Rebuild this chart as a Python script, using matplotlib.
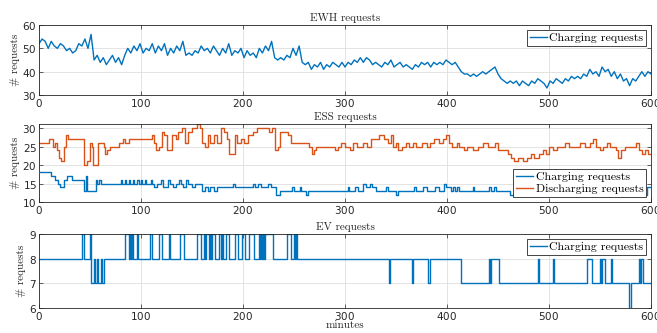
import numpy as np
import matplotlib
matplotlib.use('Agg')
import matplotlib.pyplot as plt

# ---------------- data ----------------
# EWH charging requests, sampled every 3 minutes from 0 to 600
ewh_vals = [52, 54, 53, 50, 53, 51, 50, 52, 51, 49, 50, 48, 49, 52, 51, 54, 50, 56, 45, 47,
            44, 46, 43, 45, 47, 44, 46, 43, 47, 50, 48, 51, 49, 52, 48, 50, 49, 52, 48, 51,
            49, 52, 47, 50, 48, 51, 49, 53, 47, 48, 47, 49, 48, 51, 49, 50, 48, 51, 49, 47,
            50, 48, 52, 47, 49, 48, 50, 46, 49, 47, 48, 46, 50, 48, 51, 49, 53, 46, 45, 46,
            45, 47, 46, 50, 47, 51, 44, 43, 44, 41, 43, 42, 44, 41, 43, 42, 44, 43, 42, 44,
            42, 44, 43, 45, 44, 46, 44, 46, 45, 43, 44, 43, 42, 44, 43, 45, 42, 43, 44, 42,
            43, 42, 41, 43, 42, 44, 43, 44, 42, 44, 43, 44, 43, 45, 44, 43, 44, 42, 40, 39,
            39, 38, 39, 38, 39, 40, 39, 40, 41, 42, 39, 37, 36, 35, 36, 35, 36, 34, 36, 35,
            34, 36, 35, 37, 36, 35, 33, 36, 35, 37, 36, 35, 37, 36, 38, 37, 38, 37, 39, 38,
            41, 39, 40, 38, 42, 40, 41, 38, 40, 37, 39, 36, 37, 34, 37, 36, 38, 40, 38, 40,
            39]
ewh_t = np.arange(0, 601, 3)

# ESS charging requests (change points: minute, value)
ess_ch_t = [0, 12, 16, 19, 21, 24, 27, 32, 44, 46, 47, 56, 57, 59, 61, 80, 81, 84, 85, 88,
            89, 92, 93, 96, 98, 100, 101, 104, 105, 110, 111, 113, 116, 120, 122, 126, 128,
            131, 134, 137, 139, 141, 144, 146, 150, 153, 160, 163, 166, 168, 172, 174, 190,
            192, 210, 212, 215, 218, 224, 227, 232, 236, 248, 250, 256, 257, 262, 264, 303,
            304, 310, 313, 318, 321, 324, 326, 330, 340, 342, 350, 352, 368, 370, 376, 380,
            388, 392, 397, 399, 404, 406, 408, 410, 412, 425, 426, 441, 443, 446, 448, 462,
            596, 600]
ess_ch_v = [18, 17, 16, 15, 14, 16, 17, 16, 13, 17, 13, 16, 15, 16, 15, 16, 15, 16, 15, 16,
            15, 16, 15, 16, 15, 16, 15, 16, 15, 16, 15, 14, 15, 16, 14, 16, 15,
            14, 15, 16, 15, 14, 16, 15, 14, 15, 13, 14, 13, 14, 13, 14, 15,
            14, 15, 14, 15, 14, 15, 14, 12, 13, 14, 13, 14, 13, 12, 13, 14,
            13, 14, 13, 15, 14, 15, 14, 13, 14, 13, 12, 13, 14, 13, 14, 13,
            14, 13, 15, 14, 13, 14, 13, 14, 13, 14, 13, 14, 13, 14, 13, 12,
            14, 14]

# ESS discharging requests (change points: minute, value)
ess_dis_t = [0, 10, 14, 16, 18, 20, 22, 24, 26, 28, 44, 47, 50, 52, 53, 58, 64, 65, 67, 70,
             78, 82, 84, 88, 111, 113, 115, 118, 121, 123, 125, 130, 134, 136, 140, 143, 146,
             150, 155, 158, 160, 163, 166, 168, 172, 174, 178, 181, 184, 186, 192, 194, 198,
             201, 205, 210, 214, 225, 228, 231, 234, 236, 244, 247, 265, 268, 270, 272, 290,
             293, 296, 300, 305, 308, 312, 318, 322, 325, 333, 338, 342, 345, 347, 350, 352,
             356, 360, 363, 367, 370, 375, 380, 383, 387, 392, 396, 399, 402, 405, 410, 412,
             417, 420, 425, 430, 435, 440, 447, 450, 460, 463, 466, 470, 474, 478, 482, 485,
             490, 494, 497, 500, 504, 508, 516, 520, 530, 535, 540, 543, 546, 550, 553, 557,
             560, 566, 568, 571, 574, 585, 588, 591, 594, 597, 600]
ess_dis_v = [26, 27, 25, 26, 24, 22, 21, 25, 28, 27, 20, 21, 26, 25, 20, 26, 25, 23, 24, 25,
             26, 27, 26, 27, 28, 26, 24, 25, 29, 28, 24, 28, 27, 29, 30, 26, 29,
             30, 31, 30, 26, 25, 28, 26, 28, 26, 30, 29, 27, 23, 28, 26, 27,
             26, 28, 29, 30, 29, 30, 24, 25, 29, 28, 26, 25, 23, 24, 25, 24,
             25, 26, 25, 24, 26, 25, 26, 25, 27, 28, 27, 26, 28, 25, 26, 24,
             25, 26, 25, 26, 25, 26, 25, 26, 27, 26, 27, 28, 26, 25, 26, 25,
             24, 25, 24, 25, 26, 25, 26, 24, 23, 22, 21, 22, 21, 22, 23, 22,
             23, 24, 23, 25, 24, 25, 26, 25, 26, 25, 26, 27, 25, 24, 25, 26,
             25, 24, 22, 24, 25, 26, 24, 23, 24, 23, 23]

# EV charging requests (change points: minute, value)
ev_t = [0, 42, 44, 50, 51, 54, 55, 57, 58, 61, 62, 64, 84, 88, 89, 90, 91, 92, 96, 97,
        109, 111, 118, 121, 127, 128, 138, 142, 155, 159, 162, 163, 164, 167, 168, 169,
        170, 173, 176, 178, 179, 180, 183, 186, 192, 195, 199, 202, 206, 211, 216, 217,
        218, 219, 220, 221, 222, 229, 243, 247, 250, 251, 252, 253, 343, 344, 366, 367,
        381, 383, 414, 441, 442, 443, 451, 489, 490, 504, 505, 537, 542, 550, 551, 552,
        555, 561, 562, 578, 580, 588, 589, 590, 592, 600]
ev_v = [8, 9, 8, 9, 7, 8, 7, 8, 7, 8, 7, 8, 9, 8, 9, 8, 9, 8, 9, 8,
        9, 8, 9, 8, 9, 8, 9, 8, 9, 8, 9, 8, 9, 8, 9, 8,
        9, 8, 9, 8, 9, 8, 9, 8, 9, 8, 9, 8, 9, 8, 9, 8,
        9, 8, 9, 8, 9, 8, 9, 8, 9, 8, 9, 8, 7, 8, 7, 8,
        7, 8, 7, 8, 7, 8, 7, 8, 7, 8, 7, 8, 7, 8, 7, 8,
        7, 8, 7, 6, 7, 8, 7, 8, 7, 7]

assert len(ewh_vals) == len(ewh_t)
assert len(ess_ch_t) == len(ess_ch_v)
assert len(ess_dis_t) == len(ess_dis_v)
assert len(ev_t) == len(ev_v)

# ---------------- style ----------------
BLUE, ORANGE = '#0072BD', '#D95319'
TXT = 'cmr10'
plt.rcParams['font.family'] = 'DejaVu Sans'
plt.rcParams['axes.formatter.use_mathtext'] = True

fig = plt.figure(figsize=(6.57, 3.33), dpi=100)
L, W = 0.0594, 0.9315
ax1 = fig.add_axes([L, 0.7147, W, 0.2102])
ax2 = fig.add_axes([L, 0.3934, W, 0.2333])
ax3 = fig.add_axes([L, 0.0760, W, 0.2213])


def style(ax, title, yticks):
    ax.set_xlim(0, 600)
    ax.set_xticks(range(0, 601, 100))
    ax.set_yticks(yticks)
    ax.grid(True, color='#dedede', lw=0.6)
    ax.set_axisbelow(True)
    for s in ax.spines.values():
        s.set_color('#262626')
        s.set_linewidth(0.6)
    ax.tick_params(direction='in', length=3, width=0.5, top=True, right=True,
                   labelsize=7.5, colors='#262626', pad=1.5)
    ax.set_title(title, family=TXT, fontsize=8, color='#262626', pad=3)
    ax.set_ylabel('# requests', family=TXT, fontsize=8, color='#262626', labelpad=2)


def legend(ax, loc):
    lg = ax.legend(loc=loc, prop={'family': TXT, 'size': 8.6}, fancybox=False,
                   framealpha=1, edgecolor='#262626', handlelength=1.4,
                   handletextpad=0.2, borderpad=0.25, labelspacing=0.15,
                   borderaxespad=0.4)
    lg.get_frame().set_linewidth(0.6)


ax1.plot(ewh_t, ewh_vals, color=BLUE, lw=1.0, label='Charging requests')
style(ax1, 'EWH requests', [30, 40, 50, 60])
ax1.set_ylim(30, 60)
legend(ax1, 'upper right')

ax2.step(ess_dis_t, ess_dis_v, where='post', color=ORANGE, lw=1.0, zorder=2)
ax2.step(ess_ch_t, ess_ch_v, where='post', color=BLUE, lw=1.0, label='Charging requests', zorder=3)
ax2.plot([], [], color=ORANGE, lw=1.0, label='Discharging requests')
style(ax2, 'ESS requests', [10, 15, 20, 25, 30])
ax2.set_ylim(10, 31)
legend(ax2, 'lower right')

ax3.step(ev_t, ev_v, where='post', color=BLUE, lw=1.0, label='Charging requests')
style(ax3, 'EV requests', [6, 7, 8, 9])
ax3.set_ylim(6, 9)
ax3.set_xlabel('minutes', family=TXT, fontsize=8, color='#262626', labelpad=-1)
legend(ax3, 'upper right')

fig.savefig('out.png', dpi=100)
